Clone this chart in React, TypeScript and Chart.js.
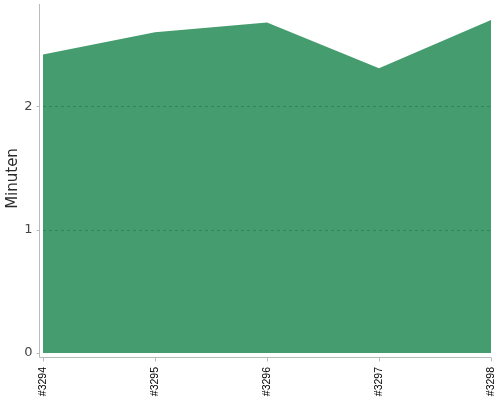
import React, { useEffect, useRef } from 'react';
import { Chart, registerables } from 'chart.js';

Chart.register(...registerables);

// Build numbers and duration per build (minutes)
const builds = ['#3294', '#3295', '#3296', '#3297', '#3298'];
const minutes = [2.42, 2.6, 2.68, 2.31, 2.7];
const yTicks = [0, 1, 2];
const yMax = 2.83;

const AXIS = '#bbbbbb';

// draws axis lines, tick marks and dashed grid on top of the area fill
const axisPlugin = {
  id: 'axisLines',
  afterDatasetsDraw(chart: any) {
    const { ctx, chartArea, scales } = chart;
    const x = scales.x;
    const y = scales.y;
    ctx.save();
    ctx.lineWidth = 1;

    ctx.strokeStyle = 'rgba(0, 60, 30, 0.25)';
    ctx.setLineDash([3, 3]);
    yTicks.forEach((v) => {
      if (v === 0) return;
      const py = Math.round(y.getPixelForValue(v)) + 0.5;
      ctx.beginPath();
      ctx.moveTo(chartArea.left, py);
      ctx.lineTo(chartArea.right, py);
      ctx.stroke();
    });
    ctx.setLineDash([]);

    const ax = chartArea.left - 3.5;
    const ay = chartArea.bottom + 4.5;
    ctx.strokeStyle = AXIS;
    ctx.beginPath();
    ctx.moveTo(ax, chartArea.top);
    ctx.lineTo(ax, ay);
    ctx.lineTo(chartArea.right, ay);
    ctx.stroke();

    yTicks.forEach((v) => {
      const py = Math.round(y.getPixelForValue(v)) + 0.5;
      ctx.beginPath();
      ctx.moveTo(ax - 3, py);
      ctx.lineTo(ax, py);
      ctx.stroke();
    });
    builds.forEach((_, i) => {
      const px = Math.round(x.getPixelForValue(i)) + 0.5;
      ctx.beginPath();
      ctx.moveTo(px, ay);
      ctx.lineTo(px, ay + 4);
      ctx.stroke();
    });
    ctx.restore();
  },
};

const noPadding = (scale: any) => {
  scale.paddingLeft = 0;
  scale.paddingRight = 0;
  scale.paddingTop = 0;
  scale.paddingBottom = 0;
};

const BuildChart: React.FC = () => {
  const canvasRef = useRef<HTMLCanvasElement>(null);
  const chartRef = useRef<Chart | null>(null);

  useEffect(() => {
    document.body.style.margin = '0';
    document.body.style.overflow = 'hidden';
    if (!canvasRef.current) return;
    if (chartRef.current) chartRef.current.destroy();

    chartRef.current = new Chart(canvasRef.current, {
      type: 'line',
      data: {
        labels: builds,
        datasets: [
          {
            label: 'Minuten',
            data: minutes,
            fill: 'origin',
            backgroundColor: '#459c6e',
            borderColor: '#459c6e',
            borderWidth: 0,
            pointRadius: 0,
            tension: 0,
          },
        ],
      },
      options: {
        responsive: false,
        animation: false,
        layout: { padding: { top: 4, right: 9, left: 0, bottom: 0 } },
        plugins: {
          legend: { display: false },
          tooltip: { enabled: false },
        },
        scales: {
          x: {
            offset: false,
            grid: { display: false, drawTicks: false },
            border: { display: false },
            ticks: {
              autoSkip: false,
              minRotation: 90,
              maxRotation: 90,
              padding: 14,
              color: '#000',
              font: { family: 'Liberation Sans', size: 10.5 },
            },
            afterFit: (scale: any) => {
              scale.height = 47;
              noPadding(scale);
            },
          },
          y: {
            min: 0,
            max: yMax,
            grid: { display: false, drawTicks: false },
            border: { display: false },
            ticks: {
              stepSize: 1,
              padding: 10.5,
              color: '#444',
              font: { family: 'DejaVu Sans', size: 13 },
            },
            afterBuildTicks: (scale: any) => {
              scale.ticks = yTicks.map((v) => ({ value: v }));
            },
            afterFit: (scale: any) => {
              scale.width = 43;
              noPadding(scale);
            },
            title: {
              display: true,
              text: 'Minuten',
              color: '#2a2a2a',
              padding: { top: 4, bottom: 0 },
              font: { family: 'DejaVu Sans', size: 15 },
            },
          },
        },
      },
      plugins: [axisPlugin],
    });

    return () => {
      if (chartRef.current) {
        chartRef.current.destroy();
        chartRef.current = null;
      }
    };
  }, []);

  return (
    <div style={{ width: 500, height: 400, overflow: 'hidden' }}>
      <canvas ref={canvasRef} width={500} height={400} style={{ display: 'block' }}></canvas>
    </div>
  );
};

export default function App() {
  return <BuildChart />;
}
